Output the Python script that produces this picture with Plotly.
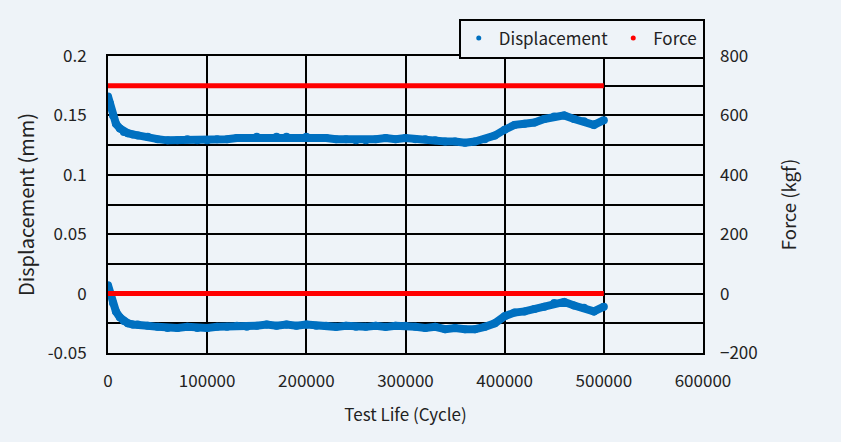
import plotly.graph_objects as go

cycles = [0, 2000, 5000, 8000, 12000, 16000, 20000, 25000, 30000, 40000, 50000,
          60000, 70000, 80000, 90000, 100000, 110000, 120000, 130000, 140000, 150000,
          160000, 170000, 180000, 190000, 200000, 210000, 220000, 230000, 240000, 250000,
          260000, 270000, 280000, 290000, 300000, 310000, 320000, 330000, 340000, 350000,
          360000, 370000, 380000, 390000, 400000, 410000, 420000, 430000, 440000, 450000,
          460000, 470000, 480000, 490000, 500000]

disp_upper = [0.166, 0.160, 0.150, 0.143, 0.139, 0.136, 0.135, 0.134, 0.133, 0.132, 0.130,
              0.129, 0.129, 0.130, 0.129, 0.129, 0.130, 0.130, 0.131, 0.131, 0.132,
              0.131, 0.132, 0.132, 0.131, 0.132, 0.131, 0.131, 0.130, 0.130, 0.129,
              0.129, 0.130, 0.131, 0.130, 0.131, 0.130, 0.130, 0.129, 0.128, 0.128,
              0.127, 0.128, 0.130, 0.133, 0.138, 0.142, 0.143, 0.144, 0.147, 0.149,
              0.150, 0.147, 0.145, 0.142, 0.146]

disp_lower = [0.007, 0.000, -0.008, -0.015, -0.020, -0.023, -0.025, -0.026, -0.026, -0.027, -0.028,
              -0.029, -0.029, -0.028, -0.029, -0.029, -0.028, -0.028, -0.027, -0.028, -0.027,
              -0.026, -0.027, -0.026, -0.027, -0.026, -0.027, -0.027, -0.028, -0.027, -0.028,
              -0.028, -0.027, -0.028, -0.027, -0.027, -0.028, -0.029, -0.028, -0.030, -0.029,
              -0.030, -0.030, -0.028, -0.025, -0.019, -0.016, -0.015, -0.013, -0.011, -0.008,
              -0.007, -0.010, -0.012, -0.015, -0.011]

force_cycles = [0, 500000]
force_upper = [700, 700]
force_lower = [0, 0]

BLUE = "#0070C0"
RED = "#FF0000"
BG = "#EEF3F8"
FONT = "Noto Sans CJK KR"

fig = go.Figure()

# Displacement bands (upper and lower)
fig.add_trace(go.Scatter(x=cycles + [None] + cycles,
                         y=disp_upper + [None] + disp_lower,
                         mode="lines+markers",
                         line=dict(color=BLUE, width=8),
                         marker=dict(color=BLUE, size=8),
                         showlegend=False, legendgroup="d", hoverinfo="skip"))

# Force lines on right axis
fig.add_trace(go.Scatter(x=force_cycles + [None] + force_cycles,
                         y=force_upper + [None] + force_lower,
                         mode="lines", line=dict(color=RED, width=5),
                         yaxis="y2", showlegend=False, legendgroup="f"))

# Legend entries
fig.add_trace(go.Scatter(x=[None], y=[None], mode="markers", name="Displacement",
                         marker=dict(color=BLUE, size=5), legendgroup="d"))
fig.add_trace(go.Scatter(x=[None], y=[None], mode="markers", name="Force",
                         marker=dict(color=RED, size=5), legendgroup="f"))

fig.update_layout(
    width=841, height=442,
    paper_bgcolor=BG, plot_bgcolor=BG,
    margin=dict(l=108, r=138, t=56, b=89, autoexpand=False),
    font=dict(family=FONT, size=17, color="#222222"),
    xaxis=dict(range=[0, 600000], dtick=100000, showgrid=True, gridcolor="black", gridwidth=2,
               showline=True, linecolor="black", linewidth=2, mirror=True, zeroline=False,
               ticklabelstandoff=12, tickformat="d",
               title=dict(text="Test Life (Cycle)", standoff=18, font=dict(size=17))),
    yaxis=dict(range=[-0.05, 0.2], dtick=0.05, showgrid=True, gridcolor="black", gridwidth=2,
               minor=dict(dtick=0.025, showgrid=True, gridcolor="black", gridwidth=2),
               showline=True, linecolor="black", linewidth=2, mirror=True, zeroline=False,
               ticklabelstandoff=16,
               tickvals=[-0.05, 0, 0.05, 0.1, 0.15, 0.2],
               ticktext=["-0.05", "0", "0.05", "0.1", "0.15", "0.2"],
               title=dict(text="Displacement (mm)", standoff=8, font=dict(size=20))),
    yaxis2=dict(range=[-200, 800], dtick=200, overlaying="y", side="right", showgrid=False,
                zeroline=False, showline=False, ticklabelstandoff=16,
                title=dict(text="Force (kgf)", standoff=26, font=dict(size=18.5))),
    legend=dict(orientation="h", xref="container", yref="container",
                x=0.838, xanchor="right", y=0.958, yanchor="top",
                bgcolor=BG, bordercolor="black", borderwidth=2,
                font=dict(size=17), itemwidth=30),
)

fig.write_html("out.html", config={"displayModeBar": False},
               post_script="document.body.style.margin='0';document.body.style.background='%s';" % BG)
